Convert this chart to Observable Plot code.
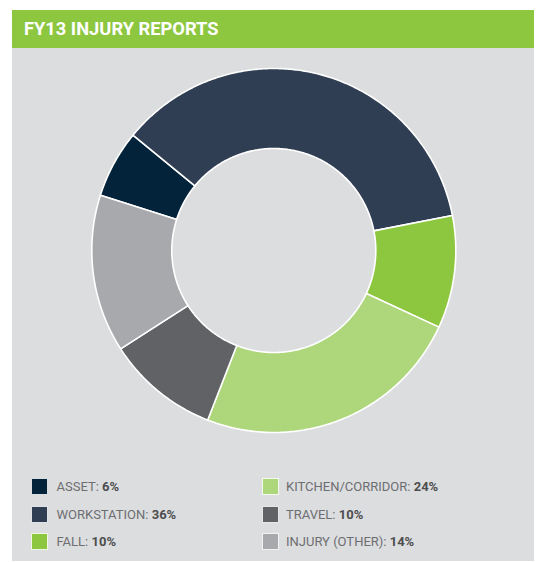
<!DOCTYPE html>
<html>
<head>
<meta charset="utf-8">
<script src="https://cdn.jsdelivr.net/npm/d3@7"></script>
<script src="https://cdn.jsdelivr.net/npm/@observablehq/plot@0.6"></script>
<style>
  html, body { margin: 0; padding: 0; background: #ffffff; }
  #panel { position: absolute; left: 12px; top: 10px; width: 522px; height: 551px; background: #dcdddf; overflow: hidden; }
  #header { position: absolute; left: 0; top: 0; width: 522px; height: 38px; background: #8dc63f; }
  #title { position: absolute; left: 12px; top: 0; line-height: 38px; font-family: Roboto, sans-serif; font-weight: 700; font-size: 18.3px; color: #ffffff; white-space: nowrap; }
  #chart { position: absolute; left: 0; top: 38px; }
  .sw { position: absolute; width: 17px; height: 17px; box-sizing: border-box; border: 1px solid rgba(255,255,255,0.85); }
  .lab { position: absolute; font-family: Roboto, sans-serif; font-size: 13px; color: #6d6e71; white-space: nowrap; line-height: 17px; }
  .lab b { color: #4d4d4f; font-weight: 700; }
</style>
</head>
<body>
<div id="panel">
  <div id="header"><div id="title">FY13 INJURY REPORTS</div></div>
  <div id="chart"></div>
  <div id="legend"></div>
</div>
<script>
const title = "FY13 INJURY REPORTS";
const categories = ["ASSET", "WORKSTATION", "FALL", "KITCHEN/CORRIDOR", "TRAVEL", "INJURY (OTHER)"];
const values = [6, 36, 10, 24, 10, 14];
const colors = ["#022339", "#2f3e53", "#8dc63f", "#aed67b", "#616265", "#a8a9ad"];
const startDeg = -72.3;
const innerRatio = 102 / 182;

const pie = d3.pie().sort(null).value((d) => d.value)
  .startAngle(startDeg * Math.PI / 180)
  .endAngle(startDeg * Math.PI / 180 + 2 * Math.PI);
const arcs = pie(categories.map((c, i) => ({category: c, value: values[i]})));

function pt(r, a) { return [r * Math.sin(a), -r * Math.cos(a)]; }
const features = arcs.map((a) => {
  const n = Math.max(8, Math.ceil((a.endAngle - a.startAngle) / 0.01));
  const ring = [];
  for (let k = 0; k <= n; k++) ring.push(pt(1, a.startAngle + (a.endAngle - a.startAngle) * k / n));
  for (let k = n; k >= 0; k--) ring.push(pt(innerRatio, a.startAngle + (a.endAngle - a.startAngle) * k / n));
  ring.push(ring[0]);
  return {type: "Feature", properties: {category: a.data.category}, geometry: {type: "Polygon", coordinates: [ring]}};
});

const chart = Plot.plot({
  width: 522,
  height: 410,
  marginLeft: 79.3,
  marginRight: 78.7,
  marginTop: 20,
  marginBottom: 26,
  projection: {type: "identity", domain: {type: "MultiPoint", coordinates: [[-1, -1], [1, 1]]}},
  color: {domain: categories, range: colors},
  style: {background: "transparent", overflow: "visible"},
  marks: [
    Plot.geo(features, {fill: (d) => d.properties.category, stroke: "#ffffff", strokeWidth: 1.6})
  ]
});
document.getElementById("chart").appendChild(chart);
document.getElementById("title").textContent = title;

const legend = document.getElementById("legend");
const rowTops = [467.5, 495.5, 523];
categories.forEach((c, i) => {
  const col = i < 3 ? 0 : 1;
  const row = i % 3;
  const sw = document.createElement("div");
  sw.className = "sw";
  sw.style.left = (col ? 250 : 19) + "px";
  sw.style.top = rowTops[row] + "px";
  sw.style.background = colors[i];
  legend.appendChild(sw);
  const lab = document.createElement("div");
  lab.className = "lab";
  lab.style.left = (col ? 274 : 44.5) + "px";
  lab.style.top = rowTops[row] + "px";
  lab.appendChild(document.createTextNode(c + ": "));
  const b = document.createElement("b");
  b.textContent = values[i] + "%";
  lab.appendChild(b);
  legend.appendChild(lab);
});
</script>
</body>
</html>
